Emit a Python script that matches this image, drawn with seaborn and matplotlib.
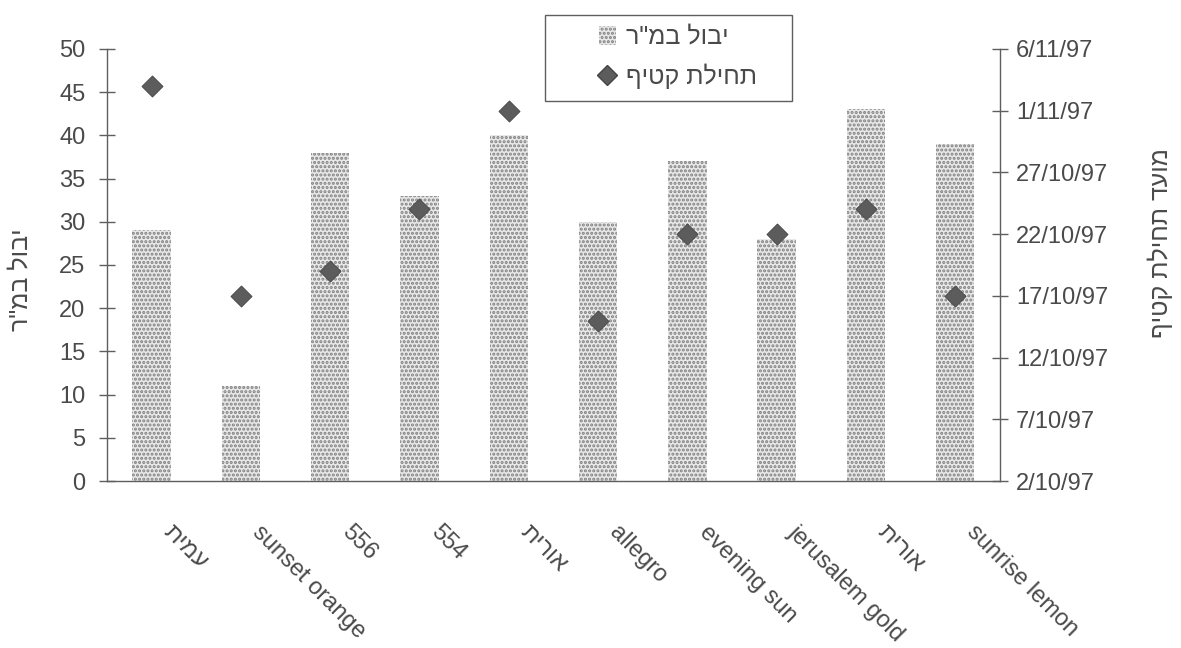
import matplotlib
matplotlib.use('Agg')
import matplotlib.pyplot as plt
import matplotlib.dates as mdates
import matplotlib.transforms as mtransforms
from matplotlib.patches import Rectangle, Patch
from matplotlib.lines import Line2D
from matplotlib.ticker import FixedLocator, FuncFormatter
import seaborn as sns
import numpy as np
import datetime as dt

# varieties (left to right as in the chart)
varieties = ['עמית', 'sunset orange', '556', '554', 'אורית',
             'allegro', 'evening sun', 'jerusalem gold', 'אורית', 'sunrise lemon']
# yield per m2
yield_m2 = [29, 11, 38, 33, 40, 30, 37, 28, 43, 39]
# start of harvest
harvest_start = ['3/11/97', '17/10/97', '19/10/97', '24/10/97', '1/11/97',
                 '15/10/97', '22/10/97', '22/10/97', '24/10/97', '17/10/97']
# right axis ticks
date_ticks = ['2/10/97', '7/10/97', '12/10/97', '17/10/97', '22/10/97',
              '27/10/97', '1/11/97', '6/11/97']

left_label = 'יבול במ"ר'
right_label = 'מועד תחילת קטיף'
legend_bar = 'יבול במ"ר'
legend_pts = 'תחילת קטיף'


def heb(s):
    # matplotlib has no bidi support: write Hebrew in visual order
    if any('\u0590' <= c <= '\u05ff' for c in s):
        return s[::-1]
    return s


def to_num(s):
    d, m, y = s.split('/')
    return mdates.date2num(dt.date(1900 + int(y), int(m), int(d)))


sns.set_style('white')
plt.rcParams['font.family'] = ['Liberation Sans', 'DejaVu Sans']
txt = '#4a4a4a'
line = '#5e5e5e'
plt.rcParams['hatch.linewidth'] = 1.5

fig = plt.figure(figsize=(11.81, 6.48), dpi=100)
ax = fig.add_axes([0.0906, 0.2577, 0.756, 0.6667])
ax2 = ax.twinx()

pos = np.arange(len(varieties))
sns.barplot(x=pos, y=yield_m2, ax=ax, color='#e8e8e8', saturation=1,
            width=0.43, hatch='....', edgecolor='#808080', linewidth=0)

dates = [to_num(s) for s in harvest_start]
sns.scatterplot(x=pos, y=dates, ax=ax2, marker='D', s=115, color='#5c5c5c',
                edgecolor='#444444', linewidth=0.6, legend=False, zorder=5)

ax.set_xlim(-0.5, len(varieties) - 0.5)
ax.set_ylim(0, 50)
ax.set_yticks(np.arange(0, 51, 5))
ax2.set_ylim(to_num(date_ticks[0]), to_num(date_ticks[-1]))
ax2.yaxis.set_major_locator(FixedLocator([to_num(s) for s in date_ticks]))
ax2.yaxis.set_major_formatter(FuncFormatter(
    lambda v, p: '{}/{}/{}'.format(mdates.num2date(v).day, mdates.num2date(v).month,
                                   mdates.num2date(v).strftime('%y'))))

ax.set_xticks(pos)
ax.set_xticklabels([heb(v) for v in varieties], rotation=-45, ha='left',
                   va='center', rotation_mode='anchor')
ax.set_xticks(np.arange(-0.5, len(varieties), 1), minor=True)
ax.tick_params(axis='x', which='major', length=0, pad=20, labelsize=17, labelcolor=txt)
ax.tick_params(axis='x', which='minor', length=11, direction='inout', color=line, width=1)
ax.tick_params(axis='y', length=11, direction='inout', color=line, width=1,
               pad=10, labelsize=17, labelcolor=txt, left=True)
ax2.tick_params(axis='y', length=11, direction='inout', color=line, width=1,
                pad=6, labelsize=17, labelcolor=txt, right=True)

# nudge the slanted labels right/down (after tick_params, which resets transforms)
shift = mtransforms.ScaledTranslation(15 / 100, -20 / 100, fig.dpi_scale_trans)
for tick in ax.xaxis.get_major_ticks():
    tick.label1.set_transform(tick.label1.get_transform() + shift)

for a in (ax, ax2):
    a.spines['top'].set_visible(False)
    a.grid(False)
ax.spines['right'].set_visible(False)
ax2.spines['left'].set_visible(False)
ax2.spines['bottom'].set_visible(False)
for sp in (ax.spines['left'], ax.spines['bottom'], ax2.spines['right']):
    sp.set_color(line)
    sp.set_linewidth(1)

ax.set_xlabel('')
ax.set_ylabel(heb(left_label), fontsize=18, color=txt, rotation=90)
ax.yaxis.set_label_coords(-0.083, 0.465)
ax2.set_ylabel(heb(right_label), fontsize=18, color=txt, rotation=90)
ax2.yaxis.set_label_coords(1.166, 0.55)

# legend box
fig.patches.append(Rectangle((545 / 1181, 1 - 101 / 648), 247 / 1181, 86 / 648,
                             transform=fig.transFigure, facecolor='white',
                             edgecolor=line, linewidth=1, zorder=10))
handles = [Patch(facecolor='#e8e8e8', hatch='....', edgecolor='#808080', linewidth=0),
           Line2D([], [], marker='D', linestyle='none', markersize=10,
                  markerfacecolor='#5c5c5c', markeredgecolor='#444444')]
leg = fig.legend(handles, [heb(legend_bar), heb(legend_pts)], loc='center left',
                 bbox_to_anchor=(586 / 1181, 1 - 57 / 648), frameon=False,
                 fontsize=18, labelcolor=txt, handlelength=0.7, handleheight=0.8,
                 handletextpad=0.4, labelspacing=0.6, borderpad=0)
leg.set_zorder(11)

fig.savefig('out.png', dpi=100)
